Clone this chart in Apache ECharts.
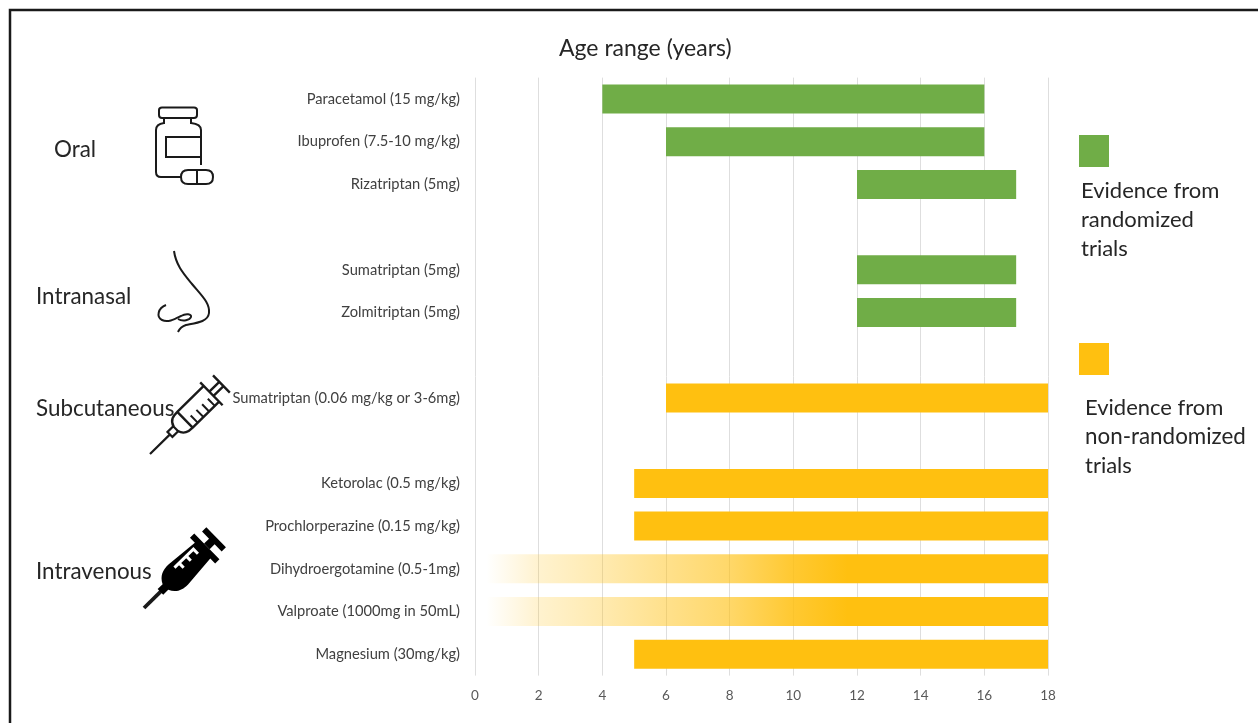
<!DOCTYPE html>
<html>
<head>
<meta charset="utf-8">
<style>
  html, body { margin: 0; padding: 0; background: #fff; }
  #chart { width: 1258px; height: 723px; }
</style>
<script src="https://cdn.jsdelivr.net/npm/echarts@6/dist/echarts.min.js"></script>
</head>
<body>
<div id="chart"></div>
<script>
// empty strings are the spacer rows between routes
const drugs = [
  'Paracetamol (15 mg/kg)', 'Ibuprofen (7.5-10 mg/kg)', 'Rizatriptan (5mg)', '',
  'Sumatriptan (5mg)', 'Zolmitriptan (5mg)', '',
  'Sumatriptan (0.06 mg/kg or 3-6mg)', '',
  'Ketorolac (0.5 mg/kg)', 'Prochlorperazine (0.15 mg/kg)', 'Dihydroergotamine (0.5-1mg)',
  'Valproate (1000mg in 50mL)', 'Magnesium (30mg/kg)'
]
const ageFrom = [4, 6, 12, null, 12, 12, null, 6, null, 5, 5, 0, 0, 5]
const ageTo = [16, 16, 17, null, 17, 17, null, 18, null, 18, 18, 18, 18, 18]
// r = randomized, n = non-randomized, f = non-randomized with faded lower bound
const evidence = ['r', 'r', 'r', '', 'r', 'r', '', 'n', '', 'n', 'n', 'f', 'f', 'n']
const ageTicks = [0, 2, 4, 6, 8, 10, 12, 14, 16, 18]

const GREEN = '#70AD47'
const ORANGE = '#FFC010'
const FONT = 'Lato, "Open Sans", sans-serif'
const TEXT = '#262626'

const fade = {
  type: 'linear', x: 0, y: 0, x2: 1, y2: 0,
  colorStops: [
    { offset: 0.02, color: 'rgba(255,192,16,0)' },
    { offset: 0.11, color: 'rgba(255,192,16,0.2)' },
    { offset: 0.22, color: 'rgba(255,192,16,0.33)' },
    { offset: 0.33, color: 'rgba(255,192,16,0.48)' },
    { offset: 0.44, color: 'rgba(255,192,16,0.62)' },
    { offset: 0.55, color: 'rgba(255,192,16,0.85)' },
    { offset: 0.65, color: 'rgba(255,192,16,1)' }
  ]
}

const span = (kind) => drugs.map((_, i) => {
  if (evidence[i] !== kind) return null
  return ageTo[i] - ageFrom[i]
})

const label = (text, x, y, size) => ({
  type: 'text',
  x, y,
  style: { text, fill: TEXT, font: `${size || 22.4}px ${FONT}`, textVerticalAlign: 'middle' }
})

// graphic has no plain path element, so each icon path gets its own shape class
let shapeCount = 0
const pathShape = (d) => {
  const name = 'iconPath' + shapeCount++
  echarts.graphic.registerShape(name, echarts.graphic.extendPath(d, {}))
  return name
}

const stroke = (d, lineWidth) => ({
  type: pathShape(d),
  style: { fill: 'none', stroke: '#1a1a1a', lineWidth: lineWidth || 2 }
})

const solid = (d, fill) => ({
  type: pathShape(d),
  style: { fill: fill || '#000', stroke: 'none' }
})

// syringes are drawn along +x from the needle tip, then rotated into place
const outlineSyringe = {
  type: 'group', x: 150, y: 454, rotation: Math.PI / 4 - 0.01,
  children: [
    stroke('M0,0 L28,0 M28,-3.5 L36,-3.5 L36,3.5 L28,3.5 Z', 2.2),
    stroke('M36,-3 C38,-10 43,-11 49,-11 L86,-11 M36,3 C38,10 43,11 49,11 L86,11 M49,-11 L49,11 M86,-16 L86,16 M86,-3 L100,-3 M86,3 L100,3 M100,-12 L100,12', 2.4),
    stroke('M56,11 L56,1 M64,11 L64,1 M72,11 L72,1 M80,11 L80,1', 2)
  ]
}
const filledSyringe = {
  type: 'group', x: 144, y: 608, rotation: Math.PI / 4 - 0.01,
  children: [
    stroke('M0,0 L24,0', 3.8),
    solid('M23,-4 L30,-4 C34,-12 40,-14 48,-14 L82,-11 L82,-18 L88,-18 L88,18 L82,18 L82,11 L48,14 C40,14 34,12 30,4 L23,4 Z'),
    solid('M88,-4 L95,-4 L95,-14 L101,-14 L101,14 L95,14 L95,4 L88,4 Z'),
    solid('M50,-9 L78,-9 L78,-1 L75,-1 L75,-6 L68,-6 L68,-1 L65,-1 L65,-6 L58,-6 L58,-1 L55,-1 L55,-6 L50,-6 Z', '#fff')
  ]
}

const chart = echarts.init(document.getElementById('chart'))
chart.setOption({
  animation: false,
  backgroundColor: '#fff',
  grid: { left: 475, right: 210, top: 77.6, bottom: 47.4 },
  xAxis: {
    type: 'value',
    min: ageTicks[0],
    max: ageTicks[ageTicks.length - 1],
    interval: 2,
    axisLine: { show: false },
    axisTick: { show: false },
    axisLabel: { color: '#595959', fontFamily: FONT, fontSize: 13.5, margin: 13 },
    splitLine: { show: true, lineStyle: { color: '#DEDEDE', width: 1 } }
  },
  yAxis: {
    type: 'category',
    inverse: true,
    data: drugs,
    axisLine: { show: false },
    axisTick: { show: false },
    axisLabel: { color: '#404040', fontFamily: FONT, fontSize: 14.7, margin: 15, interval: 0 }
  },
  series: [
    {
      type: 'bar', stack: 'age', barWidth: 29, silent: true,
      itemStyle: { color: 'transparent' },
      data: ageFrom
    },
    {
      name: 'Evidence from randomized trials',
      type: 'bar', stack: 'age', barWidth: 29,
      itemStyle: { color: GREEN },
      data: span('r')
    },
    {
      name: 'Evidence from non-randomized trials',
      type: 'bar', stack: 'age', barWidth: 29,
      itemStyle: { color: ORANGE },
      data: span('n')
    },
    {
      name: 'Evidence from non-randomized trials (lower bound uncertain)',
      type: 'bar', stack: 'age', barWidth: 29,
      itemStyle: { color: fade },
      data: span('f')
    }
  ],
  graphic: [
    // page frame, only top and left show
    stroke('M10,723 L10,10 L1258,10', 2.5),
    label('Age range (years)', 559, 49, 23),
    label('Oral', 54, 150),
    label('Intranasal', 36, 297),
    label('Subcutaneous', 36, 409),
    label('Intravenous', 36, 572),
    // bottle
    stroke('M162,107.5 L194,107.5 Q197,107.5 197,110 L197,115 Q197,118 194,118 L162,118 Q159,118 159,115 L159,110 Q159,107.5 162,107.5 Z', 2),
    stroke('M164,118 L164,123 Q156,124 156,130 L156,172 Q156,177 161,177 L181,177 M191,118 L191,123 Q201,124 201,130 L201,165', 2),
    stroke('M201,137 L166,137 L166,157 L201,157', 2),
    stroke('M188,170 L206,170 Q213,170 213,177 Q213,184 206,184 L188,184 Q181,184 181,177 Q181,170 188,170 Z M197,170 L197,184', 2),
    // nose
    stroke('M174,251 C176,265 183,273 192,284 C202,296 210,303 209,313 C208,322 196,323 186,325 C180,327 179,330 178,332', 2),
    stroke('M166,305 C158,308 156,317 162,320 C168,323 175,319 181,316 C186,313 192,314 191,317 C190,320 183,322 178,319', 2),
    outlineSyringe,
    filledSyringe,
    // legend
    { type: 'rect', shape: { x: 1079, y: 135, width: 30, height: 32 }, style: { fill: GREEN } },
    label('Evidence from', 1081, 191, 22),
    label('randomized', 1081, 220, 22),
    label('trials', 1081, 249, 22),
    { type: 'rect', shape: { x: 1079, y: 343, width: 30, height: 32 }, style: { fill: ORANGE } },
    label('Evidence from', 1085, 408, 22),
    label('non-randomized', 1085, 437, 22.4),
    label('trials', 1085, 466, 22)
  ]
})
</script>
</body>
</html>
